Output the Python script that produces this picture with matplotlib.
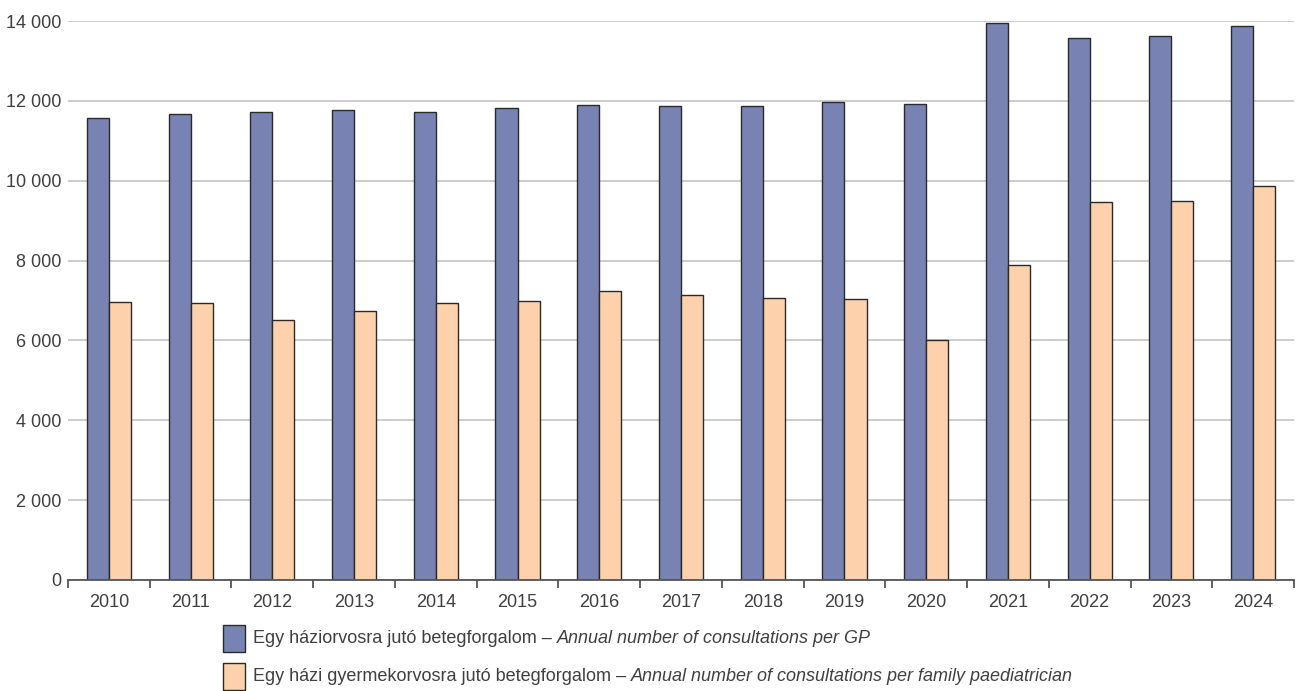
import matplotlib
matplotlib.use("Agg")
import matplotlib.pyplot as plt
from matplotlib.patches import Rectangle
import numpy as np

years = ["2010", "2011", "2012", "2013", "2014", "2015", "2016", "2017",
         "2018", "2019", "2020", "2021", "2022", "2023", "2024"]
gp = [11580, 11670, 11720, 11770, 11720, 11820, 11900, 11870,
      11870, 11970, 11920, 13950, 13580, 13620, 13870]
paed = [6960, 6940, 6520, 6740, 6940, 6990, 7230, 7140,
        7060, 7040, 6020, 7900, 9470, 9490, 9870]
yticks = [0, 2000, 4000, 6000, 8000, 10000, 12000, 14000]
ytick_labels = ["0", "2 000", "4 000", "6 000", "8 000", "10 000", "12 000", "14 000"]
legend_hu = ["Egy háziorvosra jutó betegforgalom – ",
             "Egy házi gyermekorvosra jutó betegforgalom – "]
legend_en = ["Annual number of consultations per GP",
             "Annual number of consultations per family paediatrician"]

c_gp = "#7883B4"
c_pd = "#FCD1AC"
edge = "#2a2a2a"
txt = "#404040"

plt.rcParams["font.family"] = ["Liberation Sans", "DejaVu Sans"]

fig = plt.figure(figsize=(12.98, 6.91), dpi=100)
ax = fig.add_axes([68/1298, 111/691, (1294-68)/1298, (580-21)/691])

x = np.arange(len(years))
w = 0.27
ax.bar(x - w/2, gp, w, color=c_gp, edgecolor=edge, linewidth=1.0, zorder=3)
ax.bar(x + w/2, paed, w, color=c_pd, edgecolor=edge, linewidth=1.0, zorder=3)

ax.set_xlim(-0.5, len(years) - 0.5)
ax.set_ylim(0, 14000)
ax.set_yticks(yticks)
ax.set_yticklabels(ytick_labels, fontsize=13, color=txt)
ax.yaxis.grid(True, color="#c4c4c4", linewidth=1.2, zorder=0)
ax.tick_params(axis="y", length=0, pad=5)

ax.set_xticks(x)
ax.set_xticklabels(years, fontsize=13, color=txt)
ax.set_xticks(np.arange(-0.5, len(years)), minor=True)
ax.tick_params(axis="x", which="major", length=0, pad=10)
ax.tick_params(axis="x", which="minor", length=6, width=1.3, color="#555555", direction="out")

for s in ["top", "right", "left"]:
    ax.spines[s].set_visible(False)
ax.spines["bottom"].set_color("#555555")
ax.spines["bottom"].set_linewidth(1.3)
ax.spines["bottom"].set_zorder(4)

# Legend
fig.canvas.draw()
renderer = fig.canvas.get_renderer()
colors = [c_gp, c_pd]
rows_y = [638.5, 676.5]
for i in range(2):
    yc = rows_y[i]
    fig.add_artist(Rectangle((223/1298, (691 - yc - 13.5)/691), 22/1298, 27/691,
                             transform=fig.transFigure, facecolor=colors[i],
                             edgecolor=edge, linewidth=1.0))
    t1 = fig.text(253/1298, (691 - yc)/691, legend_hu[i], fontsize=13,
                  color=txt, va="center", ha="left")
    bb = t1.get_window_extent(renderer)
    fig.text(bb.x1/1298, (691 - yc)/691, legend_en[i], fontsize=13,
             color=txt, va="center", ha="left", style="italic")

fig.savefig("out.png", dpi=100)
